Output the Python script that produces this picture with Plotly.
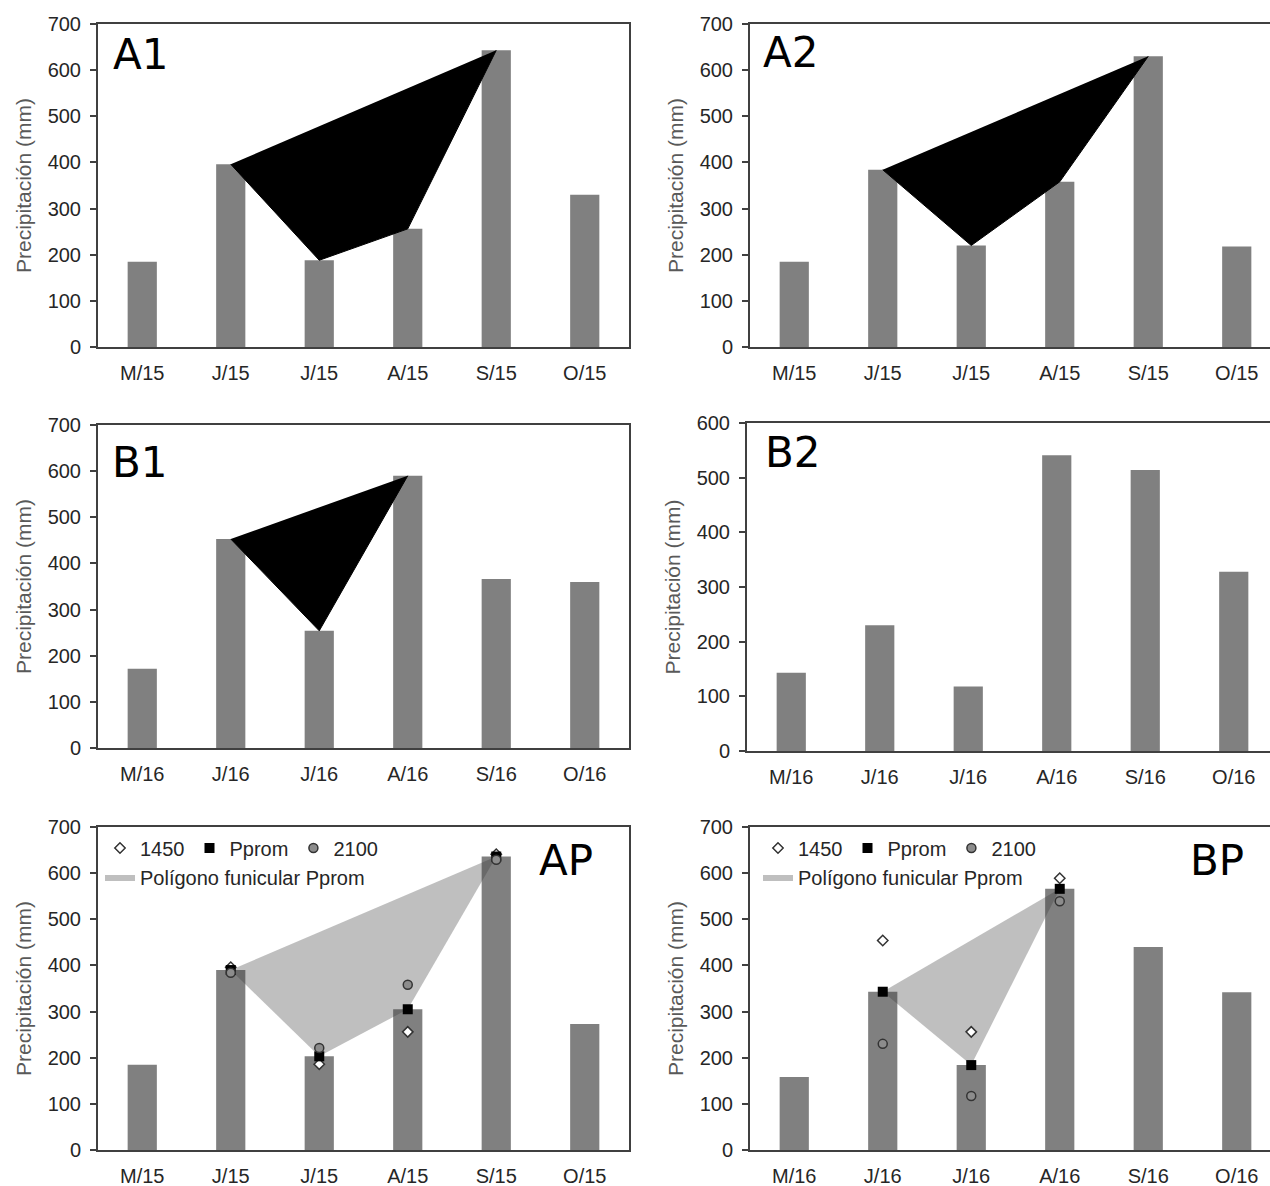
import plotly.graph_objects as go

W, H = 1270, 1186

# Month labels
meses_2015 = ["M/15", "J/15", "J/15", "A/15", "S/15", "O/15"]
meses_2016 = ["M/16", "J/16", "J/16", "A/16", "S/16", "O/16"]

# Monthly precipitation (mm) per panel
precip_a1 = [185, 396, 188, 256, 643, 330]
precip_a2 = [185, 384, 220, 358, 630, 218]
precip_b1 = [172, 453, 254, 590, 366, 360]
precip_b2 = [143, 230, 118, 541, 514, 328]
precip_ap = [185, 390, 203, 305, 636, 273]
precip_bp = [158, 343, 184, 566, 440, 342]

# Months that form the funicular polygon in each panel
poly_a1 = [1, 2, 3, 4]
poly_a2 = [1, 2, 3, 4]
poly_b1 = [1, 2, 3]
poly_ap = [1, 2, 3, 4]
poly_bp = [1, 2, 3]

# Scenario points (1450, Pprom, 2100) for the polygon months
ap_meses = [1, 2, 3, 4]
ap_1450 = [396, 186, 256, 641]
ap_pprom = [390, 203, 305, 636]
ap_2100 = [384, 221, 358, 629]

bp_meses = [1, 2, 3]
bp_1450 = [454, 256, 589]
bp_pprom = [343, 184, 566]
bp_2100 = [230, 117, 539]

BAR = "#808080"
AXIS = "#404040"
FONT = "Liberation Sans, Arial, sans-serif"


def xdom(a, b):
    return [a / W, min(b / W, 1.0)]


def ydom(top, bottom):
    return [1 - bottom / H, 1 - top / H]


# panel: key, x-pixels, y-pixels, y max, labels, bars, polygon, style, tag position
panels = [
    ("1", (98, 629), (24, 347), 700, meses_2015, precip_a1, poly_a1, "solid", "A1", (140, 55)),
    ("2", (750, 1270), (24, 347), 700, meses_2015, precip_a2, poly_a2, "solid", "A2", (790, 52)),
    ("3", (98, 629), (425, 748), 700, meses_2016, precip_b1, poly_b1, "solid", "B1", (140, 462)),
    ("4", (747, 1270), (423, 751), 600, meses_2016, precip_b2, None, None, "B2", (793, 452)),
    ("5", (98, 629), (827, 1150), 700, meses_2015, precip_ap, poly_ap, "soft", "AP", (566, 860)),
    ("6", (750, 1270), (827, 1150), 700, meses_2016, precip_bp, poly_bp, "soft", "BP", (1217, 860)),
]

fig = go.Figure()
layout = dict(
    width=W, height=H,
    margin=dict(l=0, r=0, t=0, b=0, autoexpand=False),
    paper_bgcolor="white", plot_bgcolor="white",
    font=dict(family=FONT, color="#262626"),
    showlegend=True,
    annotations=[],
)

for key, (x0, x1), (y0, y1), ymax, meses, bars, poly, style, tag, (tx, ty) in panels:
    xa = "x" if key == "1" else "x" + key
    ya = "y" if key == "1" else "y" + key
    xname = "xaxis" if key == "1" else "xaxis" + key
    yname = "yaxis" if key == "1" else "yaxis" + key
    left_col = x0 < 300

    band = 88.5
    xmax = -0.5 + (x1 - x0) / band

    fig.add_trace(go.Bar(
        x=list(range(len(bars))), y=bars, marker=dict(color=BAR, line=dict(width=0)),
        width=0.33, xaxis=xa, yaxis=ya, showlegend=False, hoverinfo="y",
    ))

    if poly is not None:
        px = list(poly)
        py = [bars[i] for i in poly]
        if style == "solid":
            fig.add_trace(go.Scatter(
                x=px, y=py, mode="lines", fill="toself", fillcolor="black",
                line=dict(color="black", width=1), xaxis=xa, yaxis=ya, showlegend=False,
                hoverinfo="skip",
            ))
        else:
            lg_pts = "legend" if key == "5" else "legend3"
            lg_poly = "legend2" if key == "5" else "legend4"
            fig.add_trace(go.Scatter(
                x=px, y=py, mode="lines", fill="toself",
                fillcolor="rgba(55,55,55,0.32)", line=dict(width=0),
                name="Polígono funicular Pprom", xaxis=xa, yaxis=ya,
                legend=lg_poly, hoverinfo="skip",
            ))
            if key == "5":
                mx, s1450, sprom, s2100 = ap_meses, ap_1450, ap_pprom, ap_2100
            else:
                mx, s1450, sprom, s2100 = bp_meses, bp_1450, bp_pprom, bp_2100
            fig.add_trace(go.Scatter(
                x=mx, y=s1450, mode="markers", name="1450",
                marker=dict(symbol="diamond", size=8, color="white",
                            line=dict(color="#333333", width=1.5)),
                xaxis=xa, yaxis=ya, legend=lg_pts,
            ))
            fig.add_trace(go.Scatter(
                x=mx, y=sprom, mode="markers", name="Pprom",
                marker=dict(symbol="square", size=10, color="black",
                            line=dict(color="black", width=0)),
                xaxis=xa, yaxis=ya, legend=lg_pts,
            ))
            fig.add_trace(go.Scatter(
                x=mx, y=s2100, mode="markers", name="2100",
                marker=dict(symbol="circle", size=9, color="#8c8c8c",
                            line=dict(color="#333333", width=1.5)),
                xaxis=xa, yaxis=ya, legend=lg_pts,
            ))

    layout[xname] = dict(
        domain=xdom(x0, x1), anchor=ya, range=[-0.5, xmax], automargin=False,
        tickmode="array", tickvals=list(range(6)), ticktext=meses,
        ticks="", showgrid=False, zeroline=False,
        showline=True, linecolor=AXIS, linewidth=2, mirror=True,
        tickfont=dict(size=20, color="#262626"), ticklabelstandoff=7,
        fixedrange=True,
    )
    layout[yname] = dict(
        domain=ydom(y0, y1), anchor=xa, range=[0, ymax], dtick=100, automargin=False,
        ticks="outside", ticklen=6, tickwidth=1.5, tickcolor=AXIS,
        showgrid=False, zeroline=False,
        showline=True, linecolor=AXIS, linewidth=2, mirror=left_col,
        tickfont=dict(size=20, color="#262626"), ticklabelstandoff=5,
        title=dict(text="Precipitación (mm)", font=dict(size=21, color="#595959"),
                   standoff=10),
        fixedrange=True,
    )
    layout["annotations"].append(dict(
        text=tag, x=tx / W, y=1 - ty / H, xref="paper", yref="paper",
        xanchor="center", yanchor="middle", showarrow=False,
        font=dict(family="DejaVu Sans, sans-serif", size=42, color="black"),
    ))

legend_common = dict(
    orientation="h", xanchor="left", yanchor="middle",
    bgcolor="rgba(0,0,0,0)", borderwidth=0,
    font=dict(size=20, color="#262626", family=FONT),
    itemclick=False, itemdoubleclick=False,
)
layout["legend"] = dict(legend_common, x=100 / W, y=1 - 848 / H)
layout["legend2"] = dict(legend_common, x=100 / W, y=1 - 877 / H)
layout["legend3"] = dict(legend_common, x=758 / W, y=1 - 848 / H)
layout["legend4"] = dict(legend_common, x=758 / W, y=1 - 877 / H)

fig.update_layout(**layout)
fig.write_html("out.html")
